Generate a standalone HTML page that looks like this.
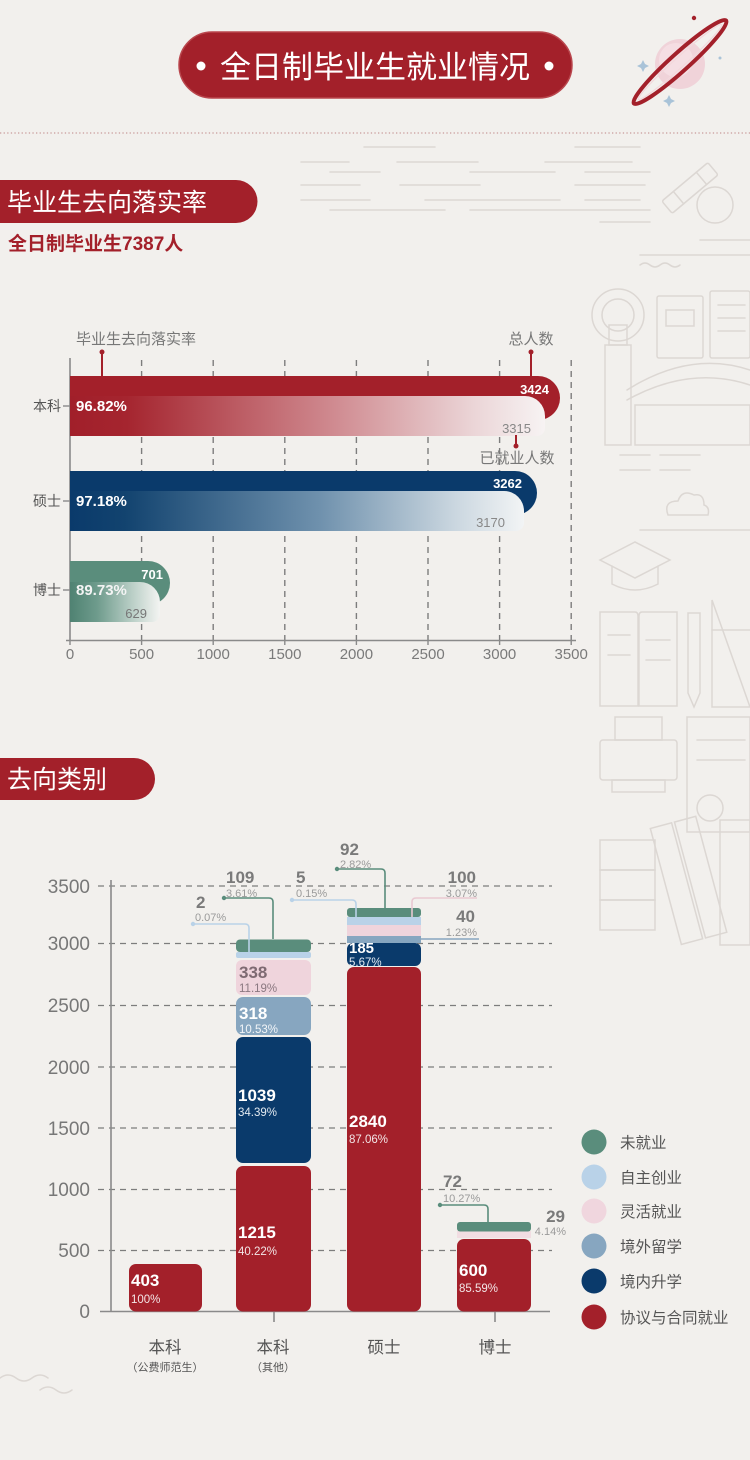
<!DOCTYPE html>
<html><head><meta charset="utf-8">
<style>
html,body{margin:0;padding:0;background:#f2f0ed;}
svg{display:block;}
text{font-family:"Liberation Sans","Noto Sans CJK SC",sans-serif;}
</style></head><body>
<svg width="750" height="1460" viewBox="0 0 750 1460" xmlns="http://www.w3.org/2000/svg">
<defs>
<linearGradient id="gr" x1="0" x2="1" y1="0" y2="0">
<stop offset="0" stop-color="#a11f2a"/><stop offset="0.12" stop-color="#a5252f"/><stop offset="0.55" stop-color="#cf898f"/><stop offset="0.85" stop-color="#ebd5d7"/><stop offset="1" stop-color="#f7f3f3"/>
</linearGradient>
<linearGradient id="gb" x1="0" x2="1" y1="0" y2="0">
<stop offset="0" stop-color="#0a3a6b"/><stop offset="0.12" stop-color="#12436f"/><stop offset="0.55" stop-color="#6f91ad"/><stop offset="0.85" stop-color="#cbd7e0"/><stop offset="1" stop-color="#f2f4f5"/>
</linearGradient>
<linearGradient id="gg" x1="0" x2="1" y1="0" y2="0">
<stop offset="0" stop-color="#4f8272"/><stop offset="0.3" stop-color="#6e9b8c"/><stop offset="0.7" stop-color="#bcd0c8"/><stop offset="1" stop-color="#f3f4f2"/>
</linearGradient>
</defs>

<rect width="750" height="1460" fill="#f2f0ed"/>

<!-- faint line art decorations -->
<g fill="none" stroke="#dcd7d3" stroke-width="1.5" stroke-linecap="round">
<line x1="364" y1="147" x2="435" y2="147"/><line x1="575" y1="147" x2="640" y2="147"/>
<line x1="301" y1="162" x2="349" y2="162"/><line x1="397" y1="162" x2="478" y2="162"/><line x1="545" y1="162" x2="632" y2="162"/>
<line x1="330" y1="172" x2="380" y2="172"/><line x1="470" y1="172" x2="555" y2="172"/><line x1="585" y1="172" x2="650" y2="172"/>
<line x1="301" y1="185" x2="360" y2="185"/><line x1="400" y1="185" x2="480" y2="185"/><line x1="575" y1="185" x2="645" y2="185"/>
<line x1="301" y1="200" x2="370" y2="200"/><line x1="425" y1="200" x2="560" y2="200"/><line x1="585" y1="200" x2="640" y2="200"/>
<line x1="330" y1="210" x2="445" y2="210"/><line x1="470" y1="210" x2="650" y2="210"/>
<line x1="600" y1="222" x2="650" y2="222"/><line x1="700" y1="240" x2="750" y2="240"/>
<g transform="rotate(-40 690 188)"><rect x="660" y="180" width="60" height="16" rx="2"/><line x1="675" y1="180" x2="675" y2="196"/><line x1="705" y1="180" x2="705" y2="196"/></g>
<circle cx="715" cy="205" r="18"/>
<line x1="640" y1="255" x2="750" y2="255"/>
<path d="M640 265 q5 -4 10 0 t10 0 t10 0 t10 0"/>
<rect x="605" y="345" width="26" height="100"/><rect x="609" y="325" width="18" height="20"/><circle cx="618" cy="315" r="16"/><circle cx="618" cy="315" r="26"/>
<rect x="657" y="296" width="46" height="62" rx="2"/><rect x="666" y="310" width="28" height="16"/>
<rect x="710" y="291" width="40" height="67" rx="2"/><line x1="718" y1="305" x2="745" y2="305"/><line x1="718" y1="318" x2="745" y2="318"/><line x1="718" y1="331" x2="745" y2="331"/>
<path d="M627 390 Q690 350 750 370"/><path d="M627 400 Q690 365 750 385"/><rect x="635" y="405" width="115" height="40"/>
<line x1="620" y1="455" x2="650" y2="455"/><line x1="660" y1="455" x2="700" y2="455"/><line x1="620" y1="470" x2="650" y2="470"/><line x1="660" y1="470" x2="690" y2="470"/>
<path d="M668 515 q-5 -14 10 -14 q4 -12 16 -6 q10 -2 10 10 q6 2 4 10 z"/>
<line x1="640" y1="530" x2="750" y2="530"/>
<path d="M600 560 l35 -18 l35 18 l-35 18 z"/><path d="M612 566 v18 q23 12 46 0 v-18"/>
<path d="M600 612 h35 q3 0 3 4 v90 h-38 z"/><path d="M677 612 h-35 q-3 0 -3 4 v90 h38 z"/><line x1="608" y1="635" x2="630" y2="635"/><line x1="608" y1="655" x2="630" y2="655"/><line x1="646" y1="640" x2="670" y2="640"/><line x1="646" y1="660" x2="670" y2="660"/>
<path d="M688 613 h12 v80 l-6 14 l-6 -14 z"/>
<path d="M712 600 v107 h38 z"/><line x1="712" y1="630" x2="750" y2="630"/>
<rect x="600" y="740" width="77" height="40" rx="3"/><rect x="615" y="717" width="47" height="23"/><rect x="612" y="780" width="53" height="12"/>
<rect x="687" y="717" width="63" height="115"/><line x1="697" y1="740" x2="745" y2="740"/><line x1="697" y1="760" x2="745" y2="760"/>
<circle cx="710" cy="808" r="13"/>
<rect x="600" y="840" width="55" height="30"/><rect x="600" y="870" width="55" height="30"/><rect x="600" y="900" width="55" height="30"/>
<g transform="rotate(-15 690 880)"><rect x="665" y="820" width="22" height="120"/><rect x="690" y="820" width="22" height="120"/></g>
<rect x="720" y="820" width="30" height="125"/>
<path d="M0 1378 q8 -6 16 0 t16 0 t16 0 M40 1390 q8 -6 16 0 t16 0"/>
</g>

<!-- Title pill -->
<rect x="179" y="32" width="393" height="66" rx="33" fill="#a3202a" stroke="#b9464d" stroke-width="1.5"/>
<circle cx="201" cy="66" r="4.5" fill="#fff"/>
<circle cx="549" cy="66" r="4.5" fill="#fff"/>
<text x="375" y="78" font-size="31" fill="#ffffff" text-anchor="middle">全日制毕业生就业情况</text>

<!-- Planet -->
<g>
<circle cx="680" cy="64" r="25" fill="#f0d3d9"/>
<circle cx="676" cy="60" r="17" fill="#f5dee3"/>
<ellipse cx="680" cy="62" rx="62" ry="9" fill="none" stroke="#a3202a" stroke-width="4" transform="rotate(-42 680 62)"/>
<ellipse cx="680" cy="62" rx="56" ry="5" fill="none" stroke="#f3d8dc" stroke-width="1.2" transform="rotate(-42 680 62)"/>
<circle cx="694" cy="18" r="2.2" fill="#a3202a"/>
<path d="M643 60 l2 4 l4 2 l-4 2 l-2 4 l-2 -4 l-4 -2 l4 -2 z" fill="#a9c3d8"/>
<path d="M669 95 l2 4 l4 2 l-4 2 l-2 4 l-2 -4 l-4 -2 l4 -2 z" fill="#a9c3d8"/>
<circle cx="720" cy="58" r="1.5" fill="#a9c3d8"/>
</g>

<!-- dotted separator -->
<line x1="0" y1="133" x2="750" y2="133" stroke="#c99a9a" stroke-width="1.2" stroke-dasharray="1.3 2.3"/>

<!-- Section 1 tab -->
<path d="M0 180 H236 A21.5 21.5 0 0 1 236 223 H0 Z" fill="#a3202a"/>
<text x="7" y="211" font-size="25" fill="#ffffff">毕业生去向落实率</text>
<text x="8" y="250" font-size="19" font-weight="bold" fill="#a3202a">全日制毕业生7387人</text>

<!-- Chart 1 grid -->
<g stroke="#7d7d7d" stroke-width="1.4" stroke-dasharray="6 5">
<line x1="141.6" y1="360" x2="141.6" y2="640"/>
<line x1="213.2" y1="360" x2="213.2" y2="640"/>
<line x1="284.8" y1="360" x2="284.8" y2="640"/>
<line x1="356.4" y1="360" x2="356.4" y2="640"/>
<line x1="428" y1="360" x2="428" y2="640"/>
<line x1="499.6" y1="360" x2="499.6" y2="640"/>
<line x1="571.2" y1="360" x2="571.2" y2="640"/>
</g>
<line x1="70" y1="358" x2="70" y2="640" stroke="#8a8a8a" stroke-width="1.6"/>
<line x1="66" y1="640.5" x2="576" y2="640.5" stroke="#8a8a8a" stroke-width="1.6"/>
<g stroke="#8a8a8a" stroke-width="1.4">
<line x1="70" y1="640" x2="70" y2="645"/><line x1="141.6" y1="640" x2="141.6" y2="645"/><line x1="213.2" y1="640" x2="213.2" y2="645"/><line x1="284.8" y1="640" x2="284.8" y2="645"/><line x1="356.4" y1="640" x2="356.4" y2="645"/><line x1="428" y1="640" x2="428" y2="645"/><line x1="499.6" y1="640" x2="499.6" y2="645"/><line x1="571.2" y1="640" x2="571.2" y2="645"/>
<line x1="63" y1="406" x2="70" y2="406"/><line x1="63" y1="501" x2="70" y2="501"/><line x1="63" y1="590" x2="70" y2="590"/>
</g>
<g font-size="15" fill="#7a7a7a" text-anchor="middle">
<text x="70" y="659">0</text><text x="141.6" y="659">500</text><text x="213.2" y="659">1000</text><text x="284.8" y="659">1500</text><text x="356.4" y="659">2000</text><text x="428" y="659">2500</text><text x="499.6" y="659">3000</text><text x="571.2" y="659">3500</text>
</g>
<g font-size="14" fill="#555" text-anchor="end">
<text x="61" y="411">本科</text><text x="61" y="506">硕士</text><text x="61" y="595">博士</text>
</g>

<!-- markers -->
<text x="76" y="344" font-size="15" fill="#777">毕业生去向落实率</text>
<line x1="102" y1="352" x2="102" y2="376" stroke="#a3202a" stroke-width="2"/><circle cx="102" cy="352" r="2.5" fill="#a3202a"/>
<text x="531" y="344" font-size="15" fill="#777" text-anchor="middle">总人数</text>
<line x1="531" y1="352" x2="531" y2="376" stroke="#a3202a" stroke-width="2"/><circle cx="531" cy="352" r="2.5" fill="#a3202a"/>

<!-- Bars chart 1 -->
<path d="M70 376 H538 A22 22 0 0 1 560 398 A22 22 0 0 1 538 420 H70 Z" fill="#a3202a"/>
<path d="M70 396 H525 A20 20 0 0 1 545 416 V428 A8 8 0 0 1 537 436 H70 Z" fill="url(#gr)"/>
<text x="549" y="394" font-size="13" font-weight="bold" fill="#fff" text-anchor="end">3424</text>
<text x="76" y="411" font-size="15" font-weight="bold" fill="#fff">96.82%</text>
<text x="531" y="433" font-size="13" fill="#888" text-anchor="end">3315</text>
<line x1="516" y1="435" x2="516" y2="446" stroke="#a3202a" stroke-width="2"/><circle cx="516" cy="446" r="2.5" fill="#a3202a"/>
<text x="517" y="463" font-size="15" fill="#777" text-anchor="middle">已就业人数</text>

<path d="M70 471 H515 A22 22 0 0 1 537 493 A22 22 0 0 1 515 515 H70 Z" fill="#0a3a6b"/>
<path d="M70 491 H504 A20 20 0 0 1 524 511 V523 A8 8 0 0 1 516 531 H70 Z" fill="url(#gb)"/>
<text x="522" y="488" font-size="13" font-weight="bold" fill="#fff" text-anchor="end">3262</text>
<text x="76" y="506" font-size="15" font-weight="bold" fill="#fff">97.18%</text>
<text x="505" y="527" font-size="13" fill="#888" text-anchor="end">3170</text>

<path d="M70 561 H148 A22 22 0 0 1 170 583 A22 22 0 0 1 148 605 H70 Z" fill="#5a8d7c"/>
<path d="M70 582 H140 A20 20 0 0 1 160 602 V614 A8 8 0 0 1 152 622 H70 Z" fill="url(#gg)"/>
<text x="163" y="579" font-size="13" font-weight="bold" fill="#fff" text-anchor="end">701</text>
<text x="76" y="595" font-size="15" font-weight="bold" fill="#f4f4f4">89.73%</text>
<text x="147" y="618" font-size="13" fill="#777" text-anchor="end">629</text>

<!-- Section 2 tab -->
<path d="M0 758 H134 A21 21 0 0 1 134 800 H0 Z" fill="#a3202a"/>
<text x="7" y="788" font-size="25" fill="#ffffff">去向类别</text>

<!-- Chart 2 grid -->
<g stroke="#7d7d7d" stroke-width="1.3" stroke-dasharray="6 5">
<line x1="98" y1="886" x2="552" y2="886"/>
<line x1="98" y1="943.5" x2="552" y2="943.5"/>
<line x1="98" y1="1005.5" x2="552" y2="1005.5"/>
<line x1="98" y1="1067" x2="552" y2="1067"/>
<line x1="98" y1="1128" x2="552" y2="1128"/>
<line x1="98" y1="1189.5" x2="552" y2="1189.5"/>
<line x1="98" y1="1250.5" x2="552" y2="1250.5"/>
</g>
<line x1="111" y1="880" x2="111" y2="1312" stroke="#8a8a8a" stroke-width="1.6"/>
<line x1="100" y1="1311.5" x2="550" y2="1311.5" stroke="#8a8a8a" stroke-width="1.6"/>
<line x1="274" y1="1311" x2="274" y2="1322" stroke="#8a8a8a" stroke-width="1.6"/>
<line x1="495" y1="1311" x2="495" y2="1322" stroke="#8a8a8a" stroke-width="1.6"/>
<g font-size="19" fill="#777" text-anchor="end">
<text x="90" y="893">3500</text><text x="90" y="950">3000</text><text x="90" y="1012">2500</text><text x="90" y="1074">2000</text><text x="90" y="1135">1500</text><text x="90" y="1196">1000</text><text x="90" y="1257">500</text><text x="90" y="1318">0</text>
</g>

<!-- Bars chart 2 -->
<rect x="129" y="1264" width="73" height="47.5" rx="7" fill="#a3202a"/>

<rect x="236" y="1166" width="75" height="145.5" rx="7" fill="#a3202a"/>
<rect x="236" y="1037" width="75" height="126" rx="7" fill="#0a3a6b"/>
<rect x="236" y="997" width="75" height="38" rx="7" fill="#87a6c0"/>
<rect x="236" y="960" width="75" height="35" rx="6" fill="#efd4dc"/>
<rect x="236" y="952" width="75" height="6" rx="2" fill="#b9d2e8"/>
<rect x="236" y="939.5" width="75" height="12.5" rx="4" fill="#5a8d7c"/>

<rect x="347" y="967" width="74" height="344.5" rx="7" fill="#a3202a"/>
<rect x="347" y="943" width="74" height="23" rx="6" fill="#0a3a6b"/>
<rect x="347" y="936" width="74" height="7" fill="#87a6c0"/>
<rect x="347" y="925" width="74" height="11" fill="#efd4dc"/>
<rect x="347" y="917" width="74" height="8" fill="#b9d2e8"/>
<rect x="347" y="908" width="74" height="9" rx="3" fill="#5a8d7c"/>

<rect x="457" y="1239" width="74" height="72.5" rx="7" fill="#a3202a"/>
<rect x="457" y="1231" width="74" height="7" fill="#f1dde2"/>
<rect x="457" y="1222" width="74" height="9.5" rx="3" fill="#5a8d7c"/>

<!-- leader lines -->
<g fill="none" stroke-width="1.6">
<path d="M193 924 H245 Q249 924 249 928 V955" stroke="#b9d2e8"/>
<path d="M224 898 H269 Q273 898 273 902 V939" stroke="#5a8d7c"/>
<path d="M292 900 H352 Q356 900 356 904 V917" stroke="#b9d2e8"/>
<path d="M337 869 H381 Q385 869 385 873 V908" stroke="#5a8d7c"/>
<path d="M412 917 V902 Q412 898 416 898 H477" stroke="#e9c9d2"/>
<path d="M421 939 H479" stroke="#87a6c0"/>
<path d="M440 1205 H484 Q488 1205 488 1209 V1222" stroke="#5a8d7c"/>
</g>
<g>
<circle cx="193" cy="924" r="2.2" fill="#b9d2e8"/>
<circle cx="224" cy="898" r="2.2" fill="#5a8d7c"/>
<circle cx="292" cy="900" r="2.2" fill="#b9d2e8"/>
<circle cx="337" cy="869" r="2.2" fill="#5a8d7c"/>
<circle cx="440" cy="1205" r="2.2" fill="#5a8d7c"/>
</g>

<!-- outside labels -->
<g font-weight="bold" fill="#7a7a7a" font-size="17">
<text x="196" y="908">2</text>
<text x="226" y="883">109</text>
<text x="296" y="883">5</text>
<text x="340" y="855">92</text>
<text x="476" y="883" text-anchor="end">100</text>
<text x="475" y="922" text-anchor="end">40</text>
<text x="443" y="1187">72</text>
<text x="565" y="1222" text-anchor="end">29</text>
</g>
<g fill="#9a9a9a" font-size="11">
<text x="195" y="921">0.07%</text>
<text x="226" y="897">3.61%</text>
<text x="296" y="897">0.15%</text>
<text x="340" y="868">2.82%</text>
<text x="477" y="897" text-anchor="end">3.07%</text>
<text x="477" y="936" text-anchor="end">1.23%</text>
<text x="443" y="1202">10.27%</text>
<text x="566" y="1235" text-anchor="end">4.14%</text>
</g>

<!-- inside labels -->
<g font-weight="bold" font-size="17" fill="#fff">
<text x="131" y="1286">403</text>
<text x="238" y="1238">1215</text>
<text x="238" y="1101">1039</text>
<text x="239" y="1019">318</text>
<text x="239" y="978" fill="#7e6a72">338</text>
<text x="349" y="1127">2840</text>
<text x="349" y="953" font-size="15">185</text>
<text x="459" y="1276">600</text>
</g>
<g font-size="11.5" fill="#f3e6e7">
<text x="131" y="1303">100%</text>
<text x="238" y="1255">40.22%</text>
<text x="238" y="1116" fill="#e2e9f0">34.39%</text>
<text x="239" y="1033" fill="#f2f5f8">10.53%</text>
<text x="239" y="992" fill="#8a7880">11.19%</text>
<text x="349" y="1143">87.06%</text>
<text x="349" y="966" fill="#e2e9f0">5.67%</text>
<text x="459" y="1292">85.59%</text>
</g>

<!-- category labels -->
<g font-size="16.5" fill="#555" text-anchor="middle">
<text x="165" y="1353">本科</text>
<text x="273" y="1353">本科</text>
<text x="384" y="1353">硕士</text>
<text x="495" y="1353">博士</text>
</g>
<g font-size="11" fill="#555" text-anchor="middle">
<text x="165" y="1371">（公费师范生）</text>
<text x="273" y="1371">（其他）</text>
</g>

<!-- legend -->
<g>
<circle cx="594" cy="1142" r="12.5" fill="#5a8d7c"/>
<circle cx="594" cy="1177" r="12.5" fill="#b9d2e8"/>
<circle cx="594" cy="1211" r="12.5" fill="#f0d6de"/>
<circle cx="594" cy="1246" r="12.5" fill="#87a6c0"/>
<circle cx="594" cy="1281" r="12.5" fill="#0a3a6b"/>
<circle cx="594" cy="1317" r="12.5" fill="#a3202a"/>
</g>
<g font-size="15.5" fill="#555">
<text x="620" y="1148">未就业</text>
<text x="620" y="1183">自主创业</text>
<text x="620" y="1217">灵活就业</text>
<text x="620" y="1252">境外留学</text>
<text x="620" y="1287">境内升学</text>
<text x="620" y="1323">协议与合同就业</text>
</g>
</svg>
</body></html>
